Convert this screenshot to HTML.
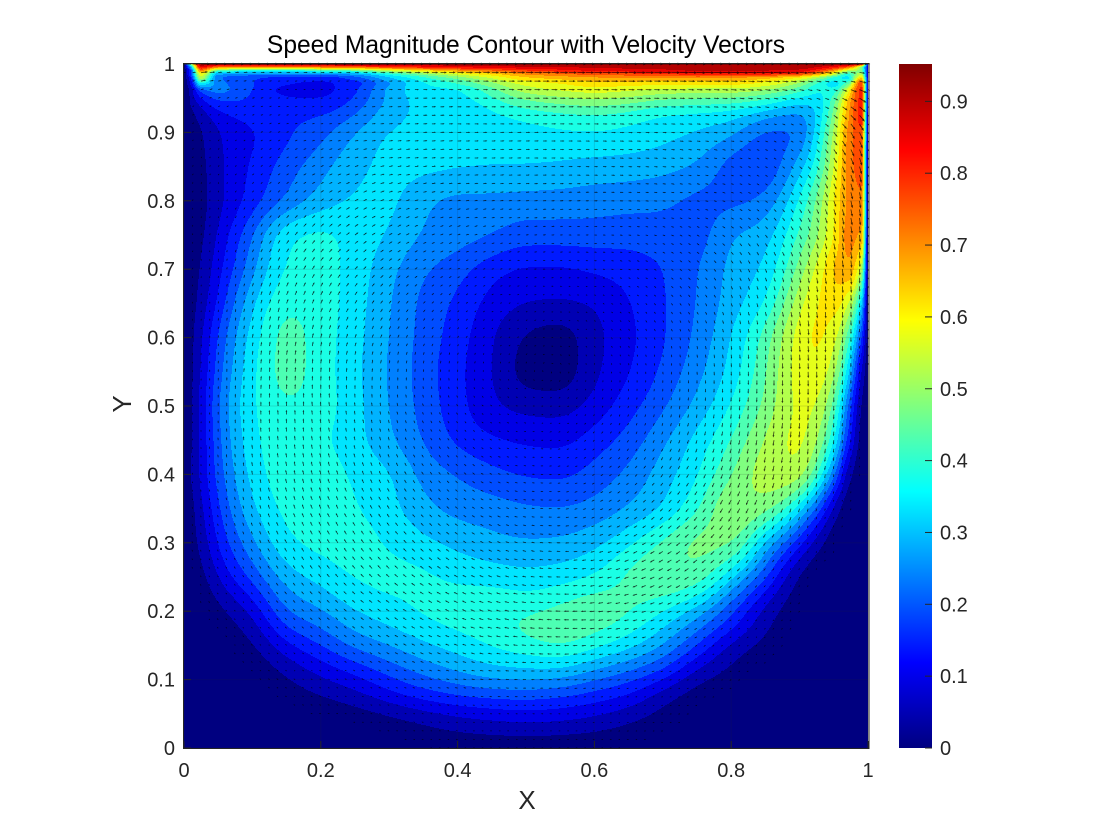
<!DOCTYPE html>
<html lang="en">
<head>
<meta charset="utf-8">
<title>Speed Magnitude Contour with Velocity Vectors</title>
<style>
html,body{margin:0;padding:0;background:#fff;}
svg{display:block;font-family:"Liberation Sans",sans-serif;}
</style>
</head>
<body>
<svg id="chart" xmlns="http://www.w3.org/2000/svg" width="1120" height="840" viewBox="0 0 1120 840">
  <defs>
    <linearGradient id="jetGradient" x1="0" y1="1" x2="0" y2="0">
      <stop offset="0" stop-color="#000080"/>
      <stop offset="0.125" stop-color="#0000ff"/>
      <stop offset="0.375" stop-color="#00ffff"/>
      <stop offset="0.625" stop-color="#ffff00"/>
      <stop offset="0.875" stop-color="#ff0000"/>
      <stop offset="1" stop-color="#800000"/>
    </linearGradient>
  </defs>
  <rect x="0" y="0" width="1120" height="840" fill="#ffffff"/>
  <text x="526" y="53" text-anchor="middle" font-size="24.6" fill="#000">Speed Magnitude Contour with Velocity Vectors</text>
  <g id="bands" shape-rendering="crispEdges"></g>
  <g id="grid"></g>
  <g id="quiver"></g>
  <g id="axes"></g>
  <text x="527" y="809" text-anchor="middle" font-size="26" fill="#262626">X</text>
  <text x="0" y="0" transform="translate(131,404) rotate(-90)" text-anchor="middle" font-size="26" fill="#262626">Y</text>
  <rect x="899" y="64" width="33" height="684" fill="url(#jetGradient)"/>
  <g id="cbar"></g>
</svg>
<script>
// Grid coordinates of the speed samples
const xNodes = [0,.01,.025,.05,.1,.15,.2,.25,.3,.35,.4,.45,.5,.55,.6,.65,.7,.75,.8,.85,.9,.93,.95,.97,.99,1];
const yNodes = [1,.995,.99,.985,.98,.97,.96,.94,.92,.9,.85,.8,.75,.7,.65,.6,.55,.5,.45,.4,.35,.3,.25,.2,.175,.15,.1,.075,.05,.025,0];
// Speed magnitude: one row per yNodes entry, one value per xNodes entry (missing trailing values are zero)
const speedRows = [
[0,.5,.952,.952,.952,.952,.952,.952,.952,.952,.952,.952,.952,.952,.952,.952,.952,.952,.952,.952,.952,.952,.952,.952,.9,.1],
[0,.3,.85,.72,.7,.7,.72,.74,.78,.82,.85,.87,.89,.9,.91,.92,.93,.94,.94,.94,.93,.89,.84,.75,.5,.1],
[0,.2,.72,.45,.4,.4,.42,.46,.55,.63,.7,.75,.8,.83,.86,.87,.88,.905,.905,.9,.88,.8,.7,.55,.5,.1],
[0,.2,.6,.3,.27,.27,.27,.3,.4,.5,.58,.65,.72,.75,.78,.79,.8,.83,.83,.82,.78,.68,.57,.42,.55,.1],
[0,.15,.55,.25,.2,.18,.17,.22,.33,.42,.5,.58,.66,.69,.71,.72,.72,.73,.72,.69,.62,.52,.42,.37,.65,.1],
[0,.1,.35,.26,.19,.14,.13,.17,.28,.37,.42,.5,.58,.61,.64,.635,.62,.62,.62,.59,.5,.4,.36,.48,.8,.1],
[0,.05,.2,.25,.18,.115,.115,.17,.29,.35,.36,.44,.53,.56,.58,.56,.54,.53,.53,.5,.42,.36,.4,.6,.82,.1],
[0,.04,.1,.17,.19,.16,.155,.21,.305,.345,.345,.39,.44,.46,.475,.46,.42,.41,.40,.37,.31,.33,.46,.68,.82,.09],
[0,.02,.05,.11,.15,.185,.205,.25,.32,.34,.345,.36,.38,.395,.40,.385,.36,.35,.335,.27,.25,.33,.5,.7,.82,.08],
[0,.01,.04,.095,.135,.18,.22,.286,.34,.345,.345,.35,.36,.375,.38,.37,.35,.33,.3,.225,.225,.38,.53,.72,.8,.05],
[0,.005,.03,.085,.15,.215,.27,.32,.345,.345,.34,.335,.333,.325,.315,.31,.30,.28,.215,.2,.31,.42,.57,.73,.78,.04],
[0,.005,.025,.08,.165,.245,.305,.34,.345,.295,.27,.27,.265,.265,.26,.255,.25,.225,.225,.25,.39,.5,.62,.72,.75,.03],
[0,.005,.03,.105,.235,.375,.395,.36,.33,.28,.26,.24,.215,.215,.215,.21,.215,.215,.285,.31,.44,.52,.62,.73,.7,.02],
[0,.01,.05,.125,.27,.39,.4,.36,.30,.245,.21,.16,.135,.135,.15,.165,.19,.235,.30,.34,.5,.6,.68,.7,.55,.02],
[0,.015,.06,.155,.325,.42,.405,.355,.29,.225,.18,.125,.095,.09,.10,.14,.185,.24,.31,.38,.56,.63,.65,.58,.35,.01],
[0,.02,.085,.2,.355,.45,.405,.35,.285,.22,.165,.1,.04,.022,.08,.13,.185,.25,.335,.45,.6,.64,.6,.46,.2,.01],
[0,.02,.095,.22,.37,.45,.405,.345,.28,.215,.155,.097,.025,.018,.085,.14,.2,.27,.35,.47,.6,.62,.55,.36,.1,.005],
[0,.03,.11,.24,.375,.425,.405,.35,.285,.22,.16,.105,.08,.075,.115,.17,.23,.3,.385,.49,.585,.58,.47,.25,.05,0],
[0,.03,.1,.23,.365,.42,.39,.35,.295,.235,.18,.15,.135,.13,.165,.21,.275,.35,.43,.53,.59,.53,.39,.18,.03,0],
[0,.04,.105,.215,.35,.41,.41,.37,.34,.27,.235,.205,.185,.18,.21,.25,.31,.375,.475,.55,.565,.42,.25,.08,.01,0],
[0,.015,.08,.185,.325,.395,.41,.385,.35,.30,.27,.26,.245,.24,.255,.29,.335,.42,.52,.50,.36,.19,.08,.02,0,0],
[0,.01,.06,.15,.275,.37,.395,.40,.375,.345,.32,.30,.29,.295,.32,.37,.44,.49,.49,.32,.16,.05,.015,0,0,0],
[0,.005,.02,.10,.205,.31,.35,.385,.395,.39,.37,.36,.35,.36,.385,.44,.476,.46,.345,.2,.035,0,0,0,0,0],
[0,0,.005,.03,.105,.238,.28,.333,.36,.39,.41,.42,.42,.445,.465,.435,.381,.31,.2,.075,.01],
[0,0,0,.015,.07,.19,.238,.295,.33,.36,.385,.41,.445,.47,.445,.40,.333,.25,.155,.055,.005],
[0,0,0,0,.04,.13,.19,.25,.286,.325,.355,.385,.41,.43,.395,.35,.286,.19,.08,.03],
[0,0,0,0,.005,.04,.085,.125,.18,.225,.26,.285,.29,.28,.24,.2,.145,.058,.025],
[0,0,0,0,0,.02,.045,.075,.12,.16,.185,.2,.205,.19,.165,.135,.06,.02],
[0,0,0,0,0,0,.01,.025,.05,.075,.1,.115,.125,.12,.1,.07,.035,.01],
[0,0,0,0,0,0,0,0,.01,.03,.05,.06,.065,.06,.05,.03,.01],
[0]
];
// Flow direction in degrees (0 = right, 90 = up), coarse grid read from the arrows
const angleX = [0,.1,.2,.3,.4,.5,.6,.7,.8,.9,1];
const angleY = [1,.9,.8,.7,.6,.5,.4,.3,.2,.1,0];
const angleRows = [
[0,0,0,0,0,0,0,0,0,0,0],
[60,30,10,5,0,0,-3,-5,-10,-30,-70],
[80,55,35,20,10,5,0,-8,-20,-55,-85],
[85,70,55,40,25,10,-5,-30,-60,-75,-88],
[88,80,75,65,55,30,-50,-70,-80,-85,-90],
[90,90,95,100,120,170,-120,-100,-95,-92,-90],
[100,100,105,115,135,170,-150,-125,-110,-100,-95],
[110,115,120,130,145,165,-165,-145,-130,-115,-105],
[125,130,135,145,155,170,-175,-160,-145,-130,-120],
[135,140,145,155,165,178,-170,-160,-150,-140,-130],
[180,180,180,180,180,180,180,180,180,180,180]
];
const xTicks = [0,.2,.4,.6,.8,1];
const yTicks = [0,.1,.2,.3,.4,.5,.6,.7,.8,.9,1];
const cbarTicks = [0,.1,.2,.3,.4,.5,.6,.7,.8,.9];
const speedMax = 0.952;
const levelCount = 20;
const quiverCount = 81;

const NS = 'http://www.w3.org/2000/svg';
const PLOT = {left:184, top:64, size:684};
function sx(x){ return PLOT.left + PLOT.size * x; }
function sy(y){ return PLOT.top + PLOT.size * (1 - y); }
function scy(v){ return 748 - 684 * v / speedMax; }
function fmt(v){ return String(+v.toFixed(1)); }
function jet(t){
  const c = a => Math.round(255 * Math.max(0, Math.min(1, 1.5 - Math.abs(4 * t - a))));
  return 'rgb(' + c(3) + ',' + c(2) + ',' + c(1) + ')';
}
function make(tag, attrs, parent){
  const el = document.createElementNS(NS, tag);
  for (const k in attrs) el.setAttribute(k, attrs[k]);
  parent.appendChild(el);
  return el;
}
// Monotone cubic interpolation through irregular samples
function tangents(xs, ys){
  const n = xs.length, m = new Array(n).fill(0), d = [];
  for (let i = 0; i < n - 1; i++) d.push((ys[i + 1] - ys[i]) / (xs[i + 1] - xs[i]));
  m[0] = d[0]; m[n - 1] = d[n - 2];
  for (let i = 1; i < n - 1; i++) {
    if (d[i - 1] * d[i] <= 0) { m[i] = 0; continue; }
    const h0 = xs[i] - xs[i - 1], h1 = xs[i + 1] - xs[i];
    const w1 = 2 * h1 + h0, w2 = h1 + 2 * h0;
    m[i] = (w1 + w2) / (w1 / d[i - 1] + w2 / d[i]);
  }
  return m;
}
function evalCurve(xs, ys, m, x){
  let i = 0;
  while (i < xs.length - 2 && x > xs[i + 1]) i++;
  const h = xs[i + 1] - xs[i], t = (x - xs[i]) / h, t2 = t * t, t3 = t2 * t;
  return (2*t3 - 3*t2 + 1) * ys[i] + (t3 - 2*t2 + t) * h * m[i] + (-2*t3 + 3*t2) * ys[i + 1] + (t3 - t2) * h * m[i + 1];
}
// Build the speed surface on pixel centres
const N = PLOT.size;
const yAsc = yNodes.slice().reverse();
const rowsAsc = speedRows.slice().reverse().map(r => xNodes.map((_, i) => r[i] === undefined ? 0 : r[i]));
const rowSamples = rowsAsc.map(r => {
  const m = tangents(xNodes, r), out = new Float32Array(N);
  for (let i = 0; i < N; i++) out[i] = evalCurve(xNodes, r, m, (i + .5) / N);
  return out;
});
const rawField = new Float32Array(N * N);
for (let i = 0; i < N; i++) {
  const col = rowSamples.map(r => r[i]);
  const m = tangents(yAsc, col);
  for (let j = 0; j < N; j++) rawField[j * N + i] = evalCurve(yAsc, col, m, 1 - (j + .5) / N);
}
// Smooth the interior so contours are round, keeping the thin wall layers sharp
function boxPass(src, stride, lineStride, radius){
  const out = new Float32Array(src.length);
  for (let a = 0; a < N; a++) {
    const base = a * lineStride;
    let sum = 0;
    for (let k = -radius; k <= radius; k++) sum += src[base + Math.max(0, Math.min(N - 1, k)) * stride];
    for (let b = 0; b < N; b++) {
      out[base + b * stride] = sum / (2 * radius + 1);
      sum += src[base + Math.min(N - 1, b + radius + 1) * stride] - src[base + Math.max(0, b - radius) * stride];
    }
  }
  return out;
}
let blurred = rawField;
for (let p = 0; p < 3; p++) {
  blurred = boxPass(blurred, 1, N, 10);
  blurred = boxPass(blurred, N, 1, 10);
}
function ramp(v){ const t = Math.max(0, Math.min(1, v)); return t * t * (3 - 2 * t); }
const field = [];
for (let j = 0; j < N; j++) {
  const line = new Float32Array(N), y = 1 - (j + .5) / N;
  for (let i = 0; i < N; i++) {
    const x = (i + .5) / N;
    const w = ramp((.975 - y) / .035) * ramp((.975 - x) / .05) * ramp(x / .02);
    line[i] = w * blurred[j * N + i] + (1 - w) * rawField[j * N + i];
  }
  field.push(line);
}
function speedAt(x, y){
  const i = Math.max(0, Math.min(N - 1, Math.floor(x * N)));
  const j = Math.max(0, Math.min(N - 1, Math.floor((1 - y) * N)));
  return field[j][i];
}
// Filled contour bands: run-length spans collected per level
const levelStep = speedMax / levelCount;
const spans = [];
for (let l = 0; l < levelCount; l++) spans.push([]);
for (let j = 0; j < N; j++) {
  let start = 0, cur = -1;
  for (let i = 0; i <= N; i++) {
    const lev = i < N ? Math.max(0, Math.min(levelCount - 1, Math.floor(field[j][i] / levelStep))) : -2;
    if (lev !== cur) {
      if (cur >= 0) spans[cur].push('M' + (PLOT.left + start) + ' ' + (PLOT.top + j) + 'h' + (i - start) + 'v1h' + (start - i) + 'z');
      cur = lev; start = i;
    }
  }
}
const bandGroup = document.getElementById('bands');
spans.forEach((s, l) => {
  if (!s.length) return;
  const p = make('path', {d: s.join(''), fill: jet(l / levelCount)}, bandGroup);
  
  
});
// Grid lines
const gridGroup = document.getElementById('grid');
xTicks.forEach(t => {
  const g = make('line', {x1: sx(t), x2: sx(t), y1: sy(0), y2: sy(1), stroke: '#262626', 'stroke-opacity': .15, 'stroke-width': 1}, gridGroup);
  
  
});
yTicks.forEach(t => {
  const g = make('line', {x1: sx(0), x2: sx(1), y1: sy(t), y2: sy(t), stroke: '#262626', 'stroke-opacity': .15, 'stroke-width': 1}, gridGroup);
  
  
});
// Velocity vectors
function directionAt(x, y){
  const fx = Math.min(angleX.length - 1.001, x * (angleX.length - 1));
  const fy = Math.min(angleY.length - 1.001, (1 - y) * (angleY.length - 1));
  const i = Math.floor(fx), j = Math.floor(fy), a = fx - i, b = fy - j;
  let ux = 0, uy = 0;
  [[j, i, (1 - a) * (1 - b)], [j, i + 1, a * (1 - b)], [j + 1, i, (1 - a) * b], [j + 1, i + 1, a * b]].forEach(c => {
    const r = angleRows[c[0]][c[1]] * Math.PI / 180;
    ux += c[2] * Math.cos(r); uy += c[2] * Math.sin(r);
  });
  return Math.atan2(uy, ux);
}
const arrowScale = 9;
let quiverPath = '';
for (let k = 0; k < quiverCount; k++) {
  for (let l = 0; l < quiverCount; l++) {
    const x = k / (quiverCount - 1), y = l / (quiverCount - 1);
    const s = speedAt(x, y);
    if (s < .012) continue;
    const len = Math.max(.9, s * arrowScale), ang = directionAt(x, y);
    const x0 = sx(x), y0 = sy(y);
    const x1 = x0 + len * Math.cos(ang), y1 = y0 - len * Math.sin(ang);
    const hl = len * .3;
    const h1 = ang + Math.PI - .4, h2 = ang + Math.PI + .4;
    quiverPath += 'M' + x0.toFixed(1) + ' ' + y0.toFixed(1) + 'L' + x1.toFixed(1) + ' ' + y1.toFixed(1)
      + 'M' + (x1 + hl * Math.cos(h1)).toFixed(1) + ' ' + (y1 - hl * Math.sin(h1)).toFixed(1)
      + 'L' + x1.toFixed(1) + ' ' + y1.toFixed(1)
      + 'L' + (x1 + hl * Math.cos(h2)).toFixed(1) + ' ' + (y1 - hl * Math.sin(h2)).toFixed(1);
  }
}
const quiverEl = make('path', {d: quiverPath, fill: 'none', stroke: '#000', 'stroke-width': .8, 'stroke-opacity': .75}, document.getElementById('quiver'));


// Axes frame, ticks, labels
const axesGroup = document.getElementById('axes');
const frame = make('rect', {x: PLOT.left - .5, y: PLOT.top - .5, width: PLOT.size + 1.5, height: PLOT.size + 1, fill: 'none', stroke: '#262626', 'stroke-width': 1}, axesGroup);


xTicks.forEach(t => {
  const tk = make('line', {x1: sx(t), x2: sx(t), y1: sy(0), y2: sy(0) - 7, stroke: '#262626', 'stroke-width': 1}, axesGroup);
  
  
  const lb = make('text', {x: sx(t), y: 777, 'text-anchor': 'middle', 'font-size': 20, fill: '#262626'}, axesGroup);
  
  
  lb.textContent = fmt(t);
});
yTicks.forEach(t => {
  const tk = make('line', {x1: sx(0), x2: sx(0) + 7, y1: sy(t), y2: sy(t), stroke: '#262626', 'stroke-width': 1}, axesGroup);
  
  
  const lb = make('text', {x: 175, y: sy(t) + 7, 'text-anchor': 'end', 'font-size': 20, fill: '#262626'}, axesGroup);
  
  
  lb.textContent = fmt(t);
});
// Colorbar ticks
const cbarGroup = document.getElementById('cbar');
cbarTicks.forEach(t => {
  const tk = make('line', {x1: 925, x2: 932, y1: scy(t), y2: scy(t), stroke: '#262626', 'stroke-width': 1}, cbarGroup);
  
  
  const lb = make('text', {x: 940, y: scy(t) + 7, 'font-size': 20, fill: '#262626'}, cbarGroup);
  
  
  lb.textContent = fmt(t);
});
</script>
</body>
</html>
